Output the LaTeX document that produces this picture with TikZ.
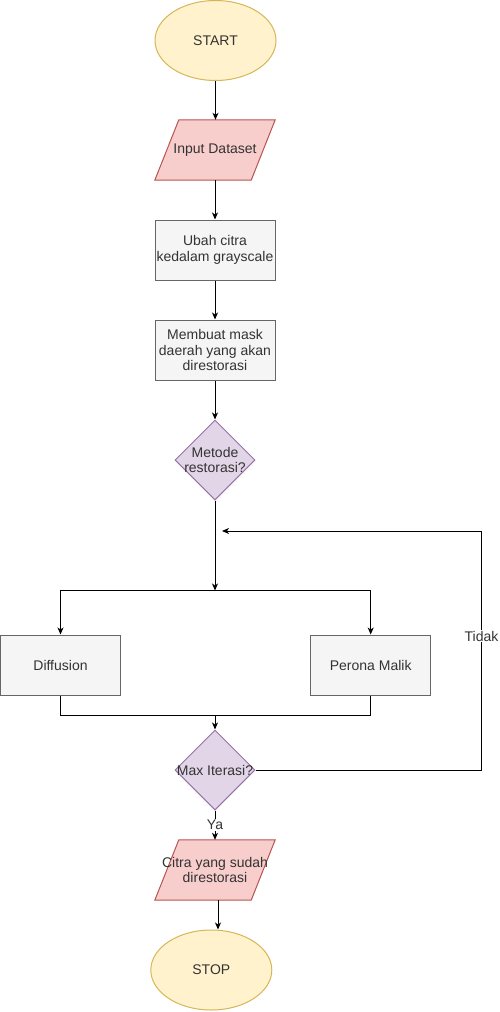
\documentclass[tikz,border=0pt]{standalone}
\usepackage{fontspec}
\setmainfont{Liberation Sans}
\usetikzlibrary{shapes.geometric,arrows.meta,backgrounds}

\definecolor{termfill}{HTML}{FFF2CC}
\definecolor{termline}{HTML}{D6B656}
\definecolor{iofill}{HTML}{F8CECC}
\definecolor{ioline}{HTML}{B85450}
\definecolor{procfill}{HTML}{F5F5F5}
\definecolor{procline}{HTML}{666666}
\definecolor{decfill}{HTML}{E1D5E7}
\definecolor{decline}{HTML}{9673A6}
\definecolor{txt}{HTML}{333333}

\begin{document}
\begin{tikzpicture}[x=1pt,y=-1pt,
  every node/.style={font=\fontsize{14}{15.5}\selectfont, text=txt, align=center},
  term/.style={ellipse, draw=termline, fill=termfill, line width=1pt,
    minimum width=121pt, minimum height=80pt, inner sep=0pt},
  iobox/.style={rectangle, minimum width=120pt, minimum height=60pt, inner sep=0pt},
  ioshape/.style={draw=ioline, fill=iofill, line width=1pt, line join=miter},
  procbox/.style={rectangle, draw=procline, fill=procfill, line width=1pt,
    minimum width=120pt, minimum height=60pt, inner sep=0pt},
  decbox/.style={diamond, draw=decline, fill=decfill, line width=1pt,
    minimum width=80pt, minimum height=80pt, inner sep=0pt},
  conn/.style={draw=black, line width=1pt},
  arr/.style={conn, -{Stealth[length=7pt,width=6pt,inset=2pt]}},
  edgelabel/.style={fill=white, inner sep=1pt, text=txt}
]
\useasboundingbox (0,0) rectangle (499,1012);

% terminals, input/output and process steps
\node[term] (start) at (215.5,40.5) {START};
\node[iobox] (inp) at (215,150) {Input Dataset};
\node[procbox] (gray) at (215,250) {Ubah citra\\kedalam grayscale};
\node[procbox] (mask) at (215,350) {Membuat mask\\daerah yang akan\\direstorasi};
\node[decbox, label={[text=txt, align=center]center:Metode\\restorasi?}] (met) at (215,460) {};
\node[procbox] (diff) at (60.5,665) {Diffusion};
\node[procbox] (per) at (370.7,665) {Perona Malik};
\node[decbox, label={[text=txt]center:Max Iterasi?}] (max) at (215,770) {};
\node[iobox] (cit) at (215,870) {Citra yang sudah\\direstorasi};
\node[term] (stop) at (211.3,970) {STOP};

% parallelogram outlines of the input/output steps, behind their text
\begin{scope}[on background layer]
  \foreach \n in {inp,cit}
    \draw[ioshape] ([xshift=24pt]\n.north west) -- (\n.north east)
      -- ([xshift=-24pt]\n.south east) -- (\n.south west) -- cycle;
\end{scope}

% junction points of the branching lines
\coordinate (split) at (215,590.5);
\coordinate (merge) at (215,715.5);
\coordinate (rx) at (481.5,770);
\coordinate (ret) at (222,531);

% main flow
\draw[arr] (start.south) -- (start.south |- inp.north);
\draw[arr] (inp) -- (gray);
\draw[arr] (gray) -- (mask);
\draw[arr] (mask) -- (met);
\draw[arr] (met.south) -- (split);
\draw[arr] (split) -| (diff.north);
\draw[arr] (split) -| (per.north);
\draw[conn] (diff.south) |- (merge);
\draw[conn] (per.south) |- (merge);
\draw[arr] (merge) -- (max.north);
\draw[conn] (max.east) -- (rx);
\draw[arr] (rx) |- (ret) node[pos=0.28, edgelabel] {Tidak};
\draw[arr] (max.south) -- (cit.north) node[midway, edgelabel] {Ya};
\draw[arr] ([xshift=3pt]cit.south) -- ([xshift=3pt]cit.south |- stop.north);
\end{tikzpicture}
\end{document}
